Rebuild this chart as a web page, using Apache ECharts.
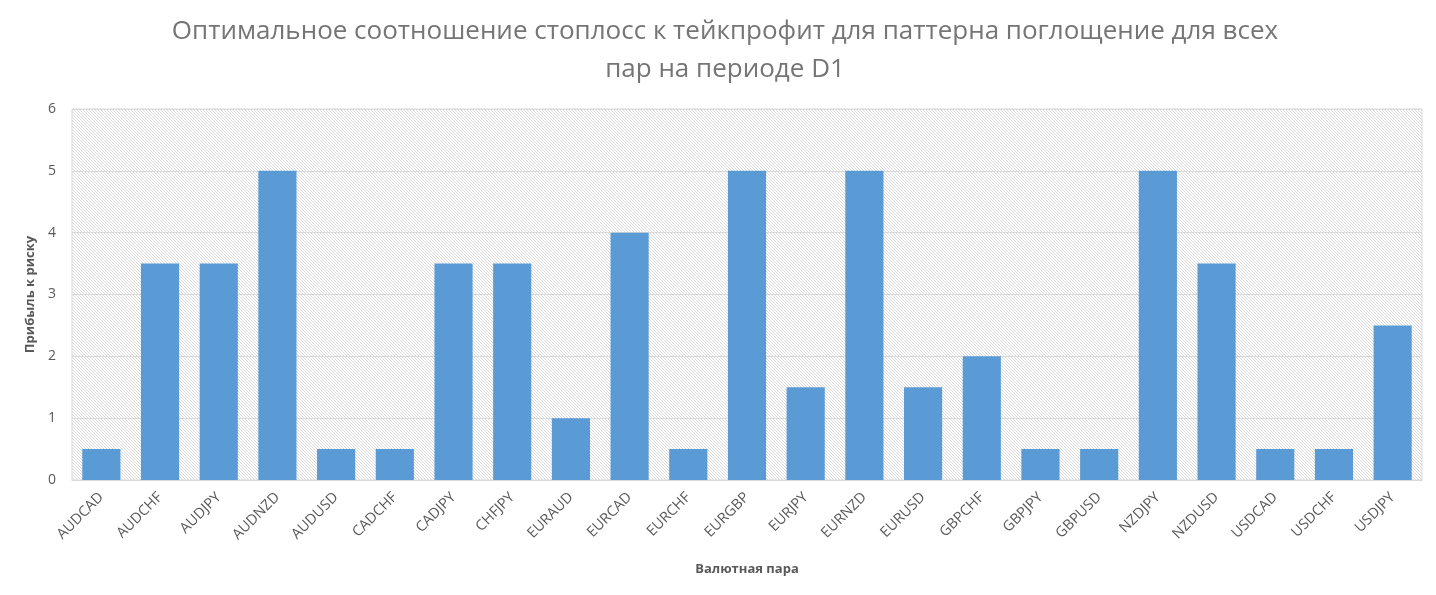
<!DOCTYPE html>
<html>
<head>
<meta charset="utf-8">
<script src="https://cdn.jsdelivr.net/npm/echarts@6/dist/echarts.min.js"></script>
<style>
  html, body { margin: 0; padding: 0; background: #fff; }
  #chart { width: 1436px; height: 595px; }
</style>
</head>
<body>
<div id="chart"></div>
<script>
const pairs = ['AUDCAD', 'AUDCHF', 'AUDJPY', 'AUDNZD', 'AUDUSD', 'CADCHF', 'CADJPY', 'CHFJPY',
  'EURAUD', 'EURCAD', 'EURCHF', 'EURGBP', 'EURJPY', 'EURNZD', 'EURUSD', 'GBPCHF',
  'GBPJPY', 'GBPUSD', 'NZDJPY', 'NZDUSD', 'USDCAD', 'USDCHF', 'USDJPY']
const ratios = [0.5, 3.5, 3.5, 5, 0.5, 0.5, 3.5, 3.5,
  1, 4, 0.5, 5, 1.5, 5, 1.5, 2,
  0.5, 0.5, 5, 3.5, 0.5, 0.5, 2.5]
const yTicks = [0, 1, 2, 3, 4, 5, 6]

// diagonal hatch for the plot area
const hatch = document.createElement('canvas')
hatch.width = 6
hatch.height = 6
const ctx = hatch.getContext('2d')
ctx.fillStyle = '#ffffff'
ctx.fillRect(0, 0, 6, 6)
ctx.strokeStyle = '#dcdcdc'
ctx.lineWidth = 1
ctx.beginPath()
for (let k = -6; k <= 12; k += 3) {
  ctx.moveTo(k, 0)
  ctx.lineTo(k + 6, 6)
}
ctx.stroke()

const chart = echarts.init(document.getElementById('chart'))
const font = '"Open Sans", "Liberation Sans", sans-serif'

chart.setOption({
  backgroundColor: '#fff',
  animation: false,
  title: {
    text: 'Оптимальное соотношение стоплосс к тейкпрофит для паттерна поглощение для всех\nпар на периоде D1',
    left: 720,
    textAlign: 'center',
    top: 8,
    textStyle: {
      color: '#757575',
      fontSize: 26,
      fontWeight: 'normal',
      fontFamily: font,
      lineHeight: 38
    }
  },
  grid: {
    left: 72,
    right: 14,
    top: 109,
    bottom: 115,
    show: true,
    backgroundColor: { image: hatch, repeat: 'repeat' },
    borderColor: '#d9d9d9',
    borderWidth: 1
  },
  xAxis: {
    type: 'category',
    data: pairs,
    name: 'Валютная пара',
    nameLocation: 'middle',
    nameGap: 83,
    nameTextStyle: {
      color: '#595959',
      fontSize: 13,
      fontWeight: 'bold',
      fontFamily: font
    },
    axisLine: { lineStyle: { color: '#d9d9d9' } },
    axisTick: { show: false },
    axisLabel: {
      rotate: 45,
      color: '#595959',
      fontSize: 14.5,
      fontFamily: font,
      margin: 15,
      interval: 0
    }
  },
  yAxis: {
    type: 'value',
    min: yTicks[0],
    max: yTicks[yTicks.length - 1],
    interval: 1,
    name: 'Прибыль к риску',
    nameLocation: 'middle',
    nameGap: 35,
    nameTextStyle: {
      color: '#595959',
      fontSize: 13,
      fontWeight: 'bold',
      fontFamily: font
    },
    axisLine: { show: false },
    axisTick: { show: false },
    axisLabel: {
      color: '#595959',
      fontSize: 14,
      fontFamily: font,
      margin: 16
    },
    splitLine: { lineStyle: { color: '#d9d9d9' } }
  },
  series: [{
    type: 'bar',
    data: ratios,
    barCategoryGap: '35%',
    itemStyle: { color: '#5b9bd5' }
  }]
})
</script>
</body>
</html>
